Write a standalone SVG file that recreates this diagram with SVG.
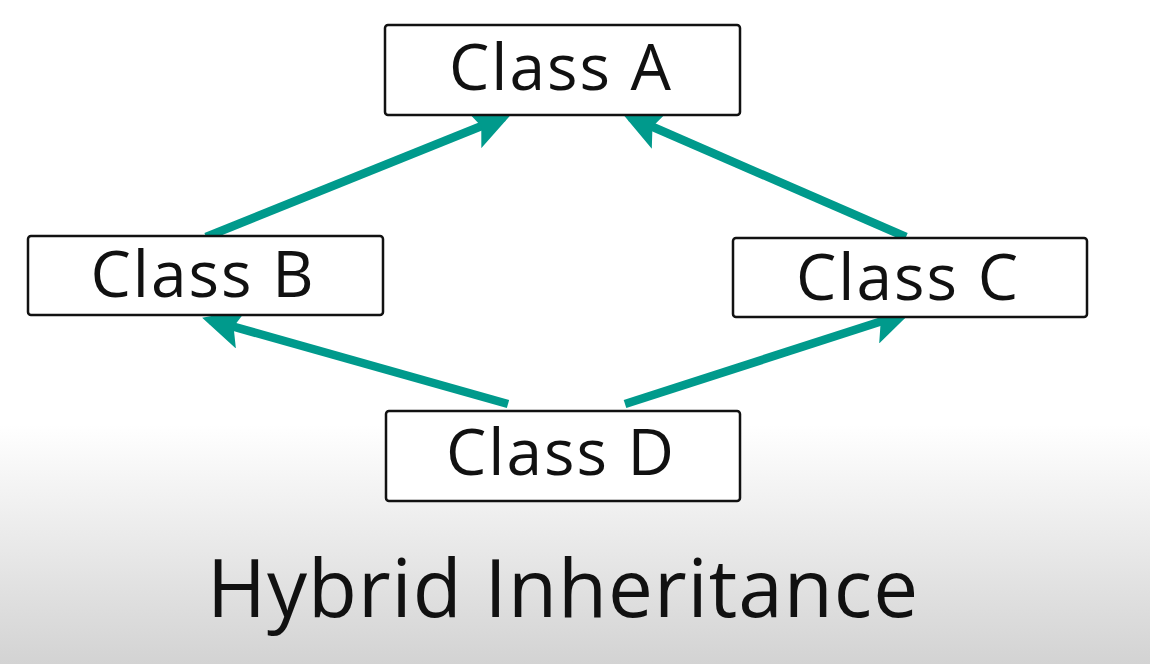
<svg xmlns="http://www.w3.org/2000/svg" width="1150" height="664" viewBox="0 0 1150 664">
<defs>
<linearGradient id="bg" x1="0" y1="0" x2="0" y2="664" gradientUnits="userSpaceOnUse">
<stop offset="0" stop-color="#ffffff"/>
<stop offset="0.64" stop-color="#ffffff"/>
<stop offset="1" stop-color="#d3d3d3"/>
</linearGradient>
<marker id="ah" viewBox="0 0 10 10" refX="8" refY="5" markerWidth="4.8" markerHeight="4.8" orient="auto" markerUnits="strokeWidth">
<path d="M0,0 L10,5 L0,10 L2,5 Z" fill="#009a8c"/>
</marker>
<style>
.box{fill:#ffffff;stroke:#111;stroke-width:2.5}
.lbl{font-family:"Open Sans","Liberation Sans",sans-serif;font-size:64px;letter-spacing:2px;fill:#111;text-anchor:middle}
.title{font-family:"Open Sans","Liberation Sans",sans-serif;font-size:80px;letter-spacing:1px;fill:#111;text-anchor:middle}
.conn{stroke:#009a8c;stroke-width:8.5;fill:none;marker-end:url(#ah)}
</style>
</defs>
<rect width="1150" height="664" fill="url(#bg)"/>
<g id="connectors">
<line class="conn" x1="206" y1="237" x2="504" y2="117"/>
<line class="conn" x1="906" y1="237" x2="630" y2="117"/>
<line class="conn" x1="508" y1="404" x2="210" y2="320"/>
<line class="conn" x1="625" y1="404" x2="904" y2="314"/>
</g>
<g id="classA"><rect class="box" x="385" y="25" width="355" height="90" rx="3"/><text class="lbl" x="561" y="90">Class A</text></g>
<g id="classB"><rect class="box" x="28" y="236" width="355" height="79" rx="3"/><text class="lbl" x="203" y="297">Class B</text></g>
<g id="classC"><rect class="box" x="733" y="238" width="354" height="79" rx="3"/><text class="lbl" x="908" y="300">Class C</text></g>
<g id="classD"><rect class="box" x="386" y="411" width="354" height="90" rx="3"/><text class="lbl" x="561" y="475">Class D</text></g>
<text class="title" x="563" y="617">Hybrid Inheritance</text>
</svg>
